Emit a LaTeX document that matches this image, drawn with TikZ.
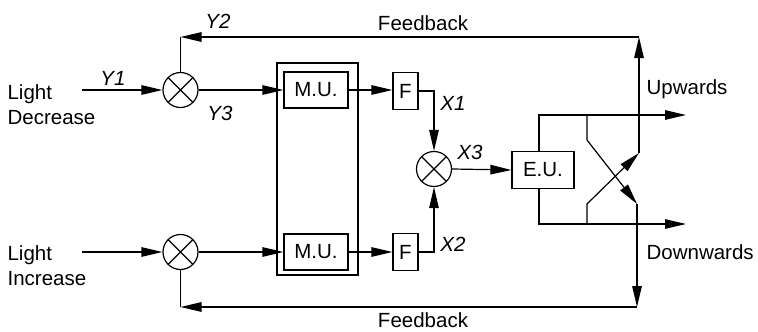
\documentclass[tikz,border=0pt]{standalone}
\usepackage{fontspec}
\setmainfont{Liberation Sans}
\usetikzlibrary{arrows.meta}
\begin{document}
\begin{tikzpicture}[x=1pt,y=-1pt,line width=1.2pt,
  every node/.style={font=\fontsize{20.5}{25}\selectfont, inner sep=0pt},
  arr/.style={-{Triangle[length=21pt,width=9.5pt]}},
  mix/.style={draw, circle, minimum size=35pt, path picture={
      \draw (path picture bounding box.north west) -- (path picture bounding box.south east)
            (path picture bounding box.north east) -- (path picture bounding box.south west);}},
  blk/.style={draw, minimum width=64pt, minimum height=36pt},
  fbox/.style={draw, minimum width=25pt, minimum height=37pt},
  lbl/.style={font=\fontsize{20.5}{25}\selectfont\itshape}]
\useasboundingbox (0,0) rectangle (758,332);
% inputs
\node[anchor=west, align=left] (ld) at (7,105) {Light\\Decrease};
\node[anchor=west, align=left] (li) at (7,266) {Light\\Increase};
\coordinate (ldin) at (82,90);
\coordinate (liin) at (82,252);
% mixers
\node[mix] (c1) at (180.5,90) {};
\node[mix] (c2) at (180.5,252) {};
\node[mix] (c3) at (434,169) {};
% memory units
\node[draw, minimum width=81pt, minimum height=212pt] (mm) at (317.5,169) {};
\node[blk] (mu1) at (316,90) {M.U.};
\node[blk] (mu2) at (316,252) {M.U.};
\node[fbox] (f1) at (405.5,91) {F};
\node[fbox] (f2) at (405.5,252) {F};
\node[draw, minimum width=62pt, minimum height=37pt] (eu) at (543,170) {E.U.};
% labels
\node[lbl] (y1) at (113,78) {Y1};
\node[lbl] (y2) at (218,21) {Y2};
\node[lbl] (y3) at (220,113) {Y3};
\node[lbl] (x1) at (453,103) {X1};
\node[lbl] (x2) at (453,244) {X2};
\node[lbl] (x3) at (470,152) {X3};
\node (fbt) at (423,23) {Feedback};
\node (fbb) at (423,320) {Feedback};
\node[anchor=west] (upw) at (646,89) {Upwards};
\node[anchor=west] (dnw) at (646,252) {Downwards};
% coordinates
\coordinate (upc) at (539,115);
\coordinate (uptip) at (686,115);
\coordinate (dnc) at (539,224);
\coordinate (dntip) at (686,224);
\coordinate (brU) at (587,115);
\coordinate (brU2) at (587,140);
\coordinate (dtip) at (637,204);
\coordinate (brD) at (587,224);
\coordinate (brD2) at (587,204);
\coordinate (utip) at (639,153);
\coordinate (fbTR) at (639,37);
\coordinate (fbTL) at (180.5,37);
\coordinate (fbBR) at (637,307);
\coordinate (fbBL) at (180.5,307);
% connectors
\draw[arr] (ldin) -- (c1.west);
\draw[arr] (liin) -- (c2.west);
\draw[arr] (c1.east) -- (c1.east -| mu1.west);
\draw[arr] (c2.east) -- (c2.east -| mu2.west);
\draw[arr] (mu1.east) -- (mu1.east -| f1.west);
\draw[arr] (mu2.east) -- (mu2.east -| f2.west);
\draw[arr] (f1.east) -| (c3.north);
\draw[arr] (f2.east) -| (c3.south);
\draw[arr] (c3.east) -- (eu.west);
\draw[arr] (eu.north -| upc) -- (upc) -- (uptip);
\draw[arr] (eu.south -| dnc) -- (dnc) -- (dntip);
\draw[arr] (brU) -- (brU2) -- (dtip);
\draw[arr] (brD) -- (brD2) -- (utip);
\draw[arr] (utip) -- (fbTR);
\draw[arr] (fbTR) -- (fbTL);
\draw (fbTL) -- (c1.north);
\draw[arr] (dtip) -- (fbBR);
\draw[arr] (fbBR) -- (fbBL);
\draw (fbBL) -- (c2.south);
\end{tikzpicture}
\end{document}
